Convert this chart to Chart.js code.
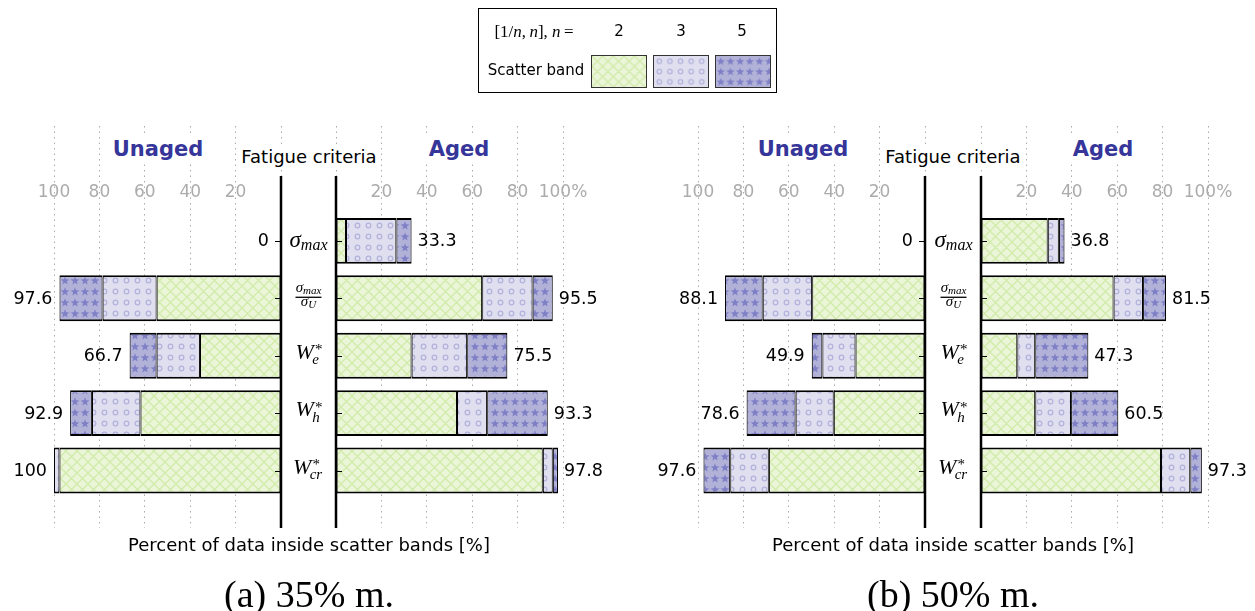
<!DOCTYPE html>
<html>
<head>
<meta charset="utf-8">
<script src="https://cdn.jsdelivr.net/npm/chart.js"></script>
<style>
body { margin: 0; background: #fff; width: 1255px; height: 611px; position: relative; overflow: hidden; font-family: 'DejaVu Sans', sans-serif; }
canvas.plot { position: absolute; left: 0; top: 0; }
.t { position: absolute; white-space: nowrap; transform: translate(-50%, -50%); line-height: 1; }
.ttl { font-weight: bold; font-size: 21px; color: #35359a; background: #fff; padding: 2px 4px; }
.fc { font-size: 18px; color: #000; background: #fff; padding: 2px 3px; }
.xl { font-size: 18px; color: #000; }
.cap { font-family: 'Liberation Serif', serif; font-size: 38px; color: #000; }
#legend { position: absolute; left: 478px; top: 8px; width: 299px; height: 85px; border: 1px solid #000; box-sizing: border-box; }
.lg { position: absolute; white-space: nowrap; transform: translate(-50%, -50%); line-height: 1; font-size: 15px; }
.sw { position: absolute; top: 55px; width: 56px; height: 33px; box-sizing: border-box; border: 1px solid #333; }
</style>
</head>
<body>
<canvas id="aL" class="plot" width="1255" height="611"></canvas>
<canvas id="aR" class="plot" width="1255" height="611"></canvas>
<canvas id="bL" class="plot" width="1255" height="611"></canvas>
<canvas id="bR" class="plot" width="1255" height="611"></canvas>

<div id="legend"></div>
<div class="lg" style="left:534px;top:31px;font-family:'Liberation Serif',serif;font-size:17px">[1/<i>n</i>,&thinsp;<i>n</i>], <i>n</i>&thinsp;=</div>
<div class="lg" id="lg2" style="left:619px;top:31px"></div>
<div class="lg" id="lg3" style="left:681px;top:31px"></div>
<div class="lg" id="lg5" style="left:742px;top:31px"></div>
<div class="lg" style="left:536px;top:70px">Scatter band</div>
<canvas id="sw2" class="sw" width="56" height="33" style="left:591px"></canvas>
<canvas id="sw3" class="sw" width="56" height="33" style="left:653px"></canvas>
<canvas id="sw5" class="sw" width="56" height="33" style="left:715px"></canvas>

<div class="t ttl" style="left:158px;top:149px">Unaged</div>
<div class="t fc" style="left:309px;top:157px">Fatigue criteria</div>
<div class="t ttl" style="left:459px;top:149px">Aged</div>
<div class="t ttl" style="left:803px;top:149px">Unaged</div>
<div class="t fc" style="left:953px;top:157px">Fatigue criteria</div>
<div class="t ttl" style="left:1103px;top:149px">Aged</div>

<div class="t xl" style="left:309px;top:545px">Percent of data inside scatter bands [%]</div>
<div class="t xl" style="left:953px;top:545px">Percent of data inside scatter bands [%]</div>
<div class="t cap" style="left:309px;top:594px">(a) 35% m.</div>
<div class="t cap" style="left:953px;top:594px">(b) 50% m.</div>

<script>
// fatigue criteria (rows, top to bottom) and scatter bands
const criteria = ['sigma_max', 'sigma_max/sigma_U', 'W*e', 'W*h', 'W*cr'];
const bands = ['2', '3', '5'];

// (a) 35% m. - unaged
const a_unaged_n2 = [0, 54.8, 35.7, 61.9, 97.6];
const a_unaged_n3 = [0, 23.8, 19.1, 21.4, 2.4];
const a_unaged_n5 = [0, 19.0, 11.9, 9.6, 0];
const a_unaged_total = ['0', '97.6', '66.7', '92.9', '100'];
// (a) 35% m. - aged
const a_aged_n2 = [4.4, 64.4, 33.3, 53.3, 91.1];
const a_aged_n3 = [22.2, 22.2, 24.5, 13.3, 4.4];
const a_aged_n5 = [6.7, 8.9, 17.7, 26.7, 2.3];
const a_aged_total = ['33.3', '95.5', '75.5', '93.3', '97.8'];

// (b) 50% m. - unaged
const b_unaged_n2 = [0, 49.7, 30.6, 40.2, 68.8];
const b_unaged_n3 = [0, 21.8, 14.6, 16.8, 17.0];
const b_unaged_n5 = [0, 16.6, 4.7, 21.6, 11.8];
const b_unaged_total = ['0', '88.1', '49.9', '78.6', '97.6'];
// (b) 50% m. - aged
const b_aged_n2 = [29.4, 58.4, 16.0, 23.9, 79.3];
const b_aged_n3 = [4.9, 13.0, 7.9, 15.8, 12.9];
const b_aged_n5 = [2.5, 10.1, 23.4, 20.8, 5.1];
const b_aged_total = ['36.8', '81.5', '47.3', '60.5', '97.3'];

const xTickStep = 20;

const SERIF = '"Liberation Serif", "DejaVu Serif", serif';
const W = 1255, H = 611;

function makePattern(kind) {
    const c = document.createElement('canvas');
    const g = c.getContext('2d');
    if (kind === '2') {
        c.width = 11; c.height = 11;
        g.fillStyle = '#ebf5d8'; g.fillRect(0, 0, 11, 11);
        g.strokeStyle = '#d1ebaa'; g.lineWidth = 1.3;
        g.beginPath();
        for (const o of [-11, 0, 11]) {
            g.moveTo(o, 0); g.lineTo(o + 11, 11);
            g.moveTo(o, 11); g.lineTo(o + 11, 0);
        }
        g.stroke();
    } else if (kind === '3') {
        c.width = 11; c.height = 11;
        g.fillStyle = '#dfdff0'; g.fillRect(0, 0, 11, 11);
        g.strokeStyle = '#b3b3dc'; g.lineWidth = 1.3;
        g.beginPath(); g.arc(5.5, 5.5, 2.3, 0, Math.PI * 2); g.stroke();
    } else {
        c.width = 10; c.height = 11;
        g.fillStyle = '#b2b2d9'; g.fillRect(0, 0, 10, 11);
        g.fillStyle = '#7f7fc6';
        g.beginPath();
        for (let k = 0; k < 10; k++) {
            const r = k % 2 ? 1.9 : 4.6;
            const a = -Math.PI / 2 + k * Math.PI / 5;
            const px = 5 + r * Math.cos(a), py = 5.8 + r * Math.sin(a);
            k ? g.lineTo(px, py) : g.moveTo(px, py);
        }
        g.closePath(); g.fill();
    }
    return g.createPattern(c, 'repeat');
}
const patterns = { '2': makePattern('2'), '3': makePattern('3'), '5': makePattern('5') };

// legend
bands.forEach(b => {
    document.getElementById('lg' + b).textContent = b;
    const sc = document.getElementById('sw' + b);
    const sg = sc.getContext('2d');
    sg.fillStyle = patterns[b];
    sg.fillRect(0, 0, sc.width, sc.height);
});

function drawSymbol(ctx, cx, by, base, size, sub, sup) {
    const it = s => 'italic ' + s + 'px ' + SERIF;
    const ss = Math.round(size * 0.7);
    ctx.font = it(size);
    const wb = ctx.measureText(base).width;
    ctx.font = it(ss);
    const wsub = sub ? ctx.measureText(sub).width : 0;
    ctx.font = ss + 'px ' + SERIF;
    const wsup = sup ? ctx.measureText(sup).width : 0;
    const x0 = cx - (wb + Math.max(wsub, wsup)) / 2;
    ctx.font = it(size);
    ctx.fillText(base, x0, by);
    if (sub) {
        ctx.font = it(ss);
        ctx.fillText(sub, x0 + wb - (sup ? size * 0.08 : 0), by + (sup ? size * 0.25 : size * 0.14));
    }
    if (sup) {
        ctx.font = ss + 'px ' + SERIF;
        ctx.fillText(sup, x0 + wb + 1, by - size * 0.2);
    }
}

function drawCriterion(ctx, i, cx, cy) {
    ctx.fillStyle = '#000';
    ctx.strokeStyle = '#000';
    ctx.textAlign = 'left';
    ctx.textBaseline = 'alphabetic';
    const c = criteria[i];
    if (c === 'sigma_max') {
        drawSymbol(ctx, cx, cy + 6, 'σ', 23, 'max');
    } else if (c === 'sigma_max/sigma_U') {
        drawSymbol(ctx, cx, cy - 6, 'σ', 15, 'max');
        ctx.lineWidth = 1.3;
        ctx.beginPath(); ctx.moveTo(cx - 13, cy - 1); ctx.lineTo(cx + 13, cy - 1); ctx.stroke();
        drawSymbol(ctx, cx, cy + 8, 'σ', 15, 'U');
    } else {
        drawSymbol(ctx, cx, cy + 3, 'W', 22, c.slice(2), '*');
    }
}

const panelPlugin = {
    id: 'panel',
    afterDatasetsDraw(chart, args, opts) {
        const ctx = chart.ctx, xs = chart.scales.x, ys = chart.scales.y, ca = chart.chartArea;
        const left = opts.side === 'left';
        const spineX = left ? ca.right : ca.left;
        ctx.save();
        // tick labels inside the plot
        ctx.fillStyle = '#acacac';
        ctx.font = '17px "DejaVu Sans"';
        ctx.textAlign = 'center';
        ctx.textBaseline = 'middle';
        xs.ticks.forEach(t => {
            if (t.value === 0) return;
            const txt = t.value + (!left && t.value === 100 ? '%' : '');
            ctx.fillText(txt, xs.getPixelForValue(t.value), 193);
        });
        // spine
        ctx.strokeStyle = '#000';
        ctx.lineWidth = 2.5;
        ctx.beginPath();
        ctx.moveTo(spineX, ys.getPixelForValue(-1.13));
        ctx.lineTo(spineX, ca.bottom);
        ctx.stroke();
        // row ticks (inward)
        ctx.lineWidth = 1;
        criteria.forEach((c, i) => {
            const y = Math.round(ys.getPixelForValue(i)) + 0.5;
            ctx.beginPath();
            ctx.moveTo(spineX, y);
            ctx.lineTo(spineX + (left ? -6 : 6), y);
            ctx.stroke();
        });
        // totals at bar ends
        ctx.fillStyle = '#000';
        ctx.font = '17.5px "DejaVu Sans"';
        ctx.textAlign = left ? 'right' : 'left';
        const last = chart.getDatasetMeta(chart.data.datasets.length - 1).data;
        last.forEach((el, i) => {
            const x = left ? el.x - (el.x >= spineX - 1 ? 12 : 7) : el.x + 6;
            ctx.fillText(opts.totals[i], x, el.y + 1);
        });
        // criterion names in the centre column
        if (!left) {
            criteria.forEach((c, i) => drawCriterion(ctx, i, ca.left - 27.5, ys.getPixelForValue(i)));
        }
        ctx.restore();
    }
};

function makeChart(id, n2, n3, n5, totals, side, x0, x1) {
    const series = [n2, n3, n5];
    return new Chart(document.getElementById(id), {
        type: 'bar',
        data: {
            datasets: series.map((s, k) => ({
                label: bands[k],
                data: s.map((v, i) => ({ x: v, y: i })),
                backgroundColor: patterns[bands[k]],
                borderColor: '#000',
                borderWidth: { top: 2, bottom: 2, left: 1.1, right: 1.1 },
                borderSkipped: false,
                categoryPercentage: 0.8,
                barPercentage: 1
            }))
        },
        options: {
            indexAxis: 'y',
            responsive: false,
            animation: false,
            layout: { padding: { left: x0, right: W - x1, top: 126, bottom: H - 528 } },
            plugins: {
                legend: { display: false },
                tooltip: { enabled: false },
                panel: { side: side, totals: totals }
            },
            scales: {
                x: {
                    type: 'linear', min: 0, max: 100, reverse: side === 'left', stacked: true,
                    ticks: { display: false, stepSize: xTickStep },
                    grid: { color: '#ababab', lineWidth: 1, drawTicks: false },
                    border: { display: false, dash: [1.5, 4] }
                },
                y: {
                    type: 'linear', min: -2, max: 5, reverse: true, stacked: true, display: false,
                    offset: false, grid: { offset: false },
                    ticks: { stepSize: 1 }
                }
            }
        },
        plugins: [panelPlugin]
    });
}

makeChart('aL', a_unaged_n2, a_unaged_n3, a_unaged_n5, a_unaged_total, 'left', 54, 281);
makeChart('aR', a_aged_n2, a_aged_n3, a_aged_n5, a_aged_total, 'right', 336, 563);
makeChart('bL', b_unaged_n2, b_unaged_n3, b_unaged_n5, b_unaged_total, 'left', 698, 925);
makeChart('bR', b_aged_n2, b_aged_n3, b_aged_n5, b_aged_total, 'right', 981, 1208);
</script>
</body>
</html>
